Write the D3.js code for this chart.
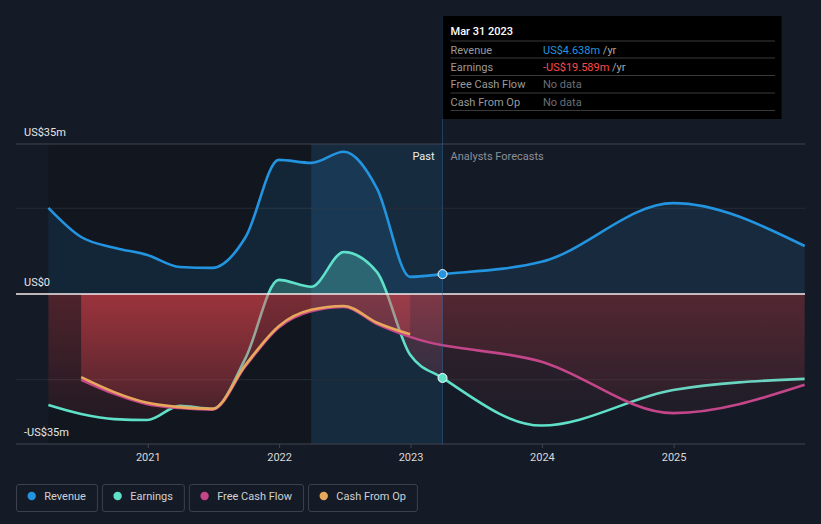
<!DOCTYPE html>
<html><head><meta charset="utf-8">
<script src="https://cdn.jsdelivr.net/npm/d3@7"></script>
<style>
html,body{margin:0;padding:0;background:#151b26;}
svg{display:block;font-family:Roboto,"Noto Sans",sans-serif;}
</style></head>
<body><svg id="c" width="821" height="524"></svg>
<script>
// ---- data ----
const pastDates = ["2020-03-31","2020-06-30","2020-09-30","2020-12-31","2021-03-31","2021-06-30","2021-09-30","2021-12-31","2022-03-31","2022-06-30","2022-09-30","2022-12-31","2023-03-31"];
const revenuePast = [20.1, 13.3, 10.8, 9.1, 6.3, 6.1, 13.3, 31.3, 30.6, 33.2, 24.6, 4.0, 4.638];
const earningsPast = [-25.9, -28.0, -29.2, -29.4, -26.1, -26.8, -14.9, 3.3, 1.7, 9.8, 5.1, -14.2, -19.589];
const cashDates = ["2020-06-30","2020-09-30","2020-12-31","2021-03-31","2021-06-30","2021-09-30","2021-12-31","2022-03-31","2022-06-30","2022-09-30","2022-12-31"];
const cashFromOpPast = [-19.4, -22.9, -25.4, -26.4, -26.8, -16.5, -7.5, -3.7, -2.8, -6.7, -9.4];
const fcfPast = [-20.0, -23.3, -25.7, -26.6, -27.0, -16.8, -7.8, -4.0, -3.0, -7.0, -10.0];
const forecastDates = ["2023-12-31","2024-12-31","2025-12-31"];
const revenueForecast = [7.5, 21.2, 11.2];
const earningsForecast = [-30.7, -22.4, -19.8];
const fcfForecast = [-15.8, -27.8, -21.2];
const yTickValues = [35, 0, -35];
const yTickLabels = ["US$35m", "US$0", "-US$35m"];
const gridValues = [20, -20];
const xTickYears = [2021, 2022, 2023, 2024, 2025];
const seriesNames = ["Revenue", "Earnings", "Free Cash Flow", "Cash From Op"];
const seriesColors = ["#2394df", "#5fe0c9", "#c4468a", "#e8a85c"];
const tooltipDate = "Mar 31 2023";
const tooltipRows = [
  {label:"Revenue", value:"US$4.638m", unit:" /yr", color:"#2394df"},
  {label:"Earnings", value:"-US$19.589m", unit:" /yr", color:"#ff4a4a"},
  {label:"Free Cash Flow", value:"No data", unit:"", color:"#6b6f76"},
  {label:"Cash From Op", value:"No data", unit:"", color:"#6b6f76"}
];

// ---- setup ----
const parse = d3.timeParse("%Y-%m-%d");
const svg = d3.select("#c");
const x = d3.scaleTime().domain([parse("2020-01-01"), parse("2026-01-01")]).range([16, 805]);
const y = d3.scaleLinear().domain([-35, 35]).range([444, 144]);
const zip = (ds, vs) => ds.map((d,i)=>({date:parse(d), v:vs[i]}));

const revenue = zip(pastDates, revenuePast).concat(zip(forecastDates, revenueForecast));
const earnings = zip(pastDates, earningsPast).concat(zip(forecastDates, earningsForecast));
const cfo = zip(cashDates, cashFromOpPast);
const fcf = zip(cashDates, fcfPast).concat(zip(forecastDates, fcfForecast));

const now = parse("2023-03-31");
const lastYear = parse("2022-03-31");
const x0 = x.range()[0], x1 = x.range()[1];
const xNow = x(now), xStart = x(parse(pastDates[0]));
const y0 = y(0);

const defs = svg.append("defs");
function grad(id, top, bottom){
  const g = defs.append("linearGradient").attr("id", id).attr("gradientUnits","userSpaceOnUse")
    .attr("x1",0).attr("x2",0).attr("y1",y(0)).attr("y2",y(-35));
  g.append("stop").attr("offset",0).attr("stop-color","#f2464e").attr("stop-opacity",top);
  g.append("stop").attr("offset",1).attr("stop-color","#f2464e").attr("stop-opacity",bottom);
}
grad("redPast", 0.27, 0.04);
grad("redFuture", 0.15, 0.02);
function clip(id, xa, xb, ya, yb){
  defs.append("clipPath").attr("id",id).append("rect").attr("x",xa).attr("y",ya).attr("width",xb-xa).attr("height",yb-ya);
}
clip("negPast", 0, xNow, y0, 460);
clip("negFuture", xNow, 821, y0, 460);
clip("pos", 0, 821, 100, y0);

// background regions
svg.append("rect").attr("x", xStart).attr("y", y(35)).attr("width", x(lastYear)-xStart).attr("height", y(-35)-y(35)).attr("fill","rgba(0,0,0,0.17)");
svg.append("rect").attr("x", x(lastYear)).attr("y", y(35)).attr("width", xNow-x(lastYear)).attr("height", y(-35)-y(35)).attr("fill","rgba(35,140,220,0.14)");

// grid
svg.selectAll(".grid").data(gridValues).join("line").attr("x1",x0).attr("x2",x1)
  .attr("y1",d=>y(d)).attr("y2",d=>y(d)).attr("stroke","#262c36").attr("stroke-width",1);
svg.append("line").attr("x1",x0).attr("x2",x1).attr("y1",y(35)).attr("y2",y(35)).attr("stroke","#40454e");
svg.append("line").attr("x1",x0).attr("x2",x1).attr("y1",y(-35)).attr("y2",y(-35)).attr("stroke","#40454e");

const curve = d3.curveMonotoneX;
const area = d3.area().x(d=>x(d.date)).y0(y0).y1(d=>y(d.v)).curve(curve);
const line = d3.line().x(d=>x(d.date)).y(d=>y(d.v)).curve(curve);

// revenue area
svg.append("path").attr("d", area(revenue)).attr("fill","rgba(35,148,223,0.13)").attr("clip-path","url(#pos)");
// earnings areas
svg.append("path").attr("d", area(earnings)).attr("fill","rgba(95,224,201,0.28)").attr("clip-path","url(#pos)");
function negArea(data){
  svg.append("path").attr("d", area(data)).attr("fill","url(#redPast)").attr("clip-path","url(#negPast)");
  svg.append("path").attr("d", area(data)).attr("fill","url(#redFuture)").attr("clip-path","url(#negFuture)");
}
negArea(earnings);
// earnings line (under cash areas)
svg.append("path").attr("d", line(earnings)).attr("fill","none").attr("stroke",seriesColors[1]).attr("stroke-width",2.6);
negArea(fcf);
negArea(cfo);

// zero line
svg.append("line").attr("x1",x0).attr("x2",x1).attr("y1",y0).attr("y2",y0).attr("stroke","#f4ecec").attr("stroke-width",1.5);

// lines
svg.append("path").attr("d", line(fcf)).attr("fill","none").attr("stroke",seriesColors[2]).attr("stroke-width",2.6);
svg.append("path").attr("d", line(cfo)).attr("fill","none").attr("stroke",seriesColors[3]).attr("stroke-width",2.6);
svg.append("path").attr("d", line(revenue)).attr("fill","none").attr("stroke",seriesColors[0]).attr("stroke-width",2.6);

// tooltip vertical line
svg.append("line").attr("x1",xNow).attr("x2",xNow).attr("y1",16).attr("y2",y(-35)).attr("stroke","rgba(50,110,170,0.45)").attr("stroke-width",1);

// dots at present
svg.append("circle").attr("cx",xNow).attr("cy",y(revenuePast[revenuePast.length-1])).attr("r",4.5).attr("fill",seriesColors[0]).attr("stroke","#fff").attr("stroke-width",1);
svg.append("circle").attr("cx",xNow).attr("cy",y(earningsPast[earningsPast.length-1])).attr("r",4.5).attr("fill",seriesColors[1]).attr("stroke","#fff").attr("stroke-width",1);

// y labels
svg.selectAll(".ylab").data(yTickValues).join("text").attr("x",24).attr("y",d=>y(d)-8)
  .attr("fill","#e6e6e6").attr("font-size",11).text((d,i)=>yTickLabels[i]);

// x axis
const xa = svg.append("g").attr("transform",`translate(0,${y(-35)})`)
  .call(d3.axisBottom(x).tickValues(xTickYears.map(yr=>new Date(yr,0,1))).tickFormat(d3.timeFormat("%Y")).tickSize(4).tickPadding(5));
xa.select(".domain").remove();
xa.selectAll(".tick line").attr("stroke","#40454e");
xa.selectAll(".tick text").attr("fill","#d8d8d8").attr("font-size",11).attr("font-family","Roboto,sans-serif");

// Past / Forecast labels
svg.append("text").attr("x",xNow-8).attr("y",160).attr("text-anchor","end").attr("fill","#eeeeee").attr("font-size",11).text("Past");
svg.append("text").attr("x",xNow+8).attr("y",160).attr("fill","#8a8f98").attr("font-size",11).text("Analysts Forecasts");

// tooltip
const tt = svg.append("g");
tt.append("rect").attr("x",xNow).attr("y",16).attr("width",339).attr("height",103).attr("fill","#000");
tt.append("text").attr("x",xNow+8).attr("y",35).attr("fill","#ffffff").attr("font-size",11).attr("font-weight",500).text(tooltipDate);
const sepY = [41, 58, 75.5, 93, 110.5];
tt.selectAll(".sep").data(sepY).join("line").attr("x1",xNow+8).attr("x2",775).attr("y1",d=>d).attr("y2",d=>d).attr("stroke","#3a3a3a");
tooltipRows.forEach((r,i)=>{
  const ty = sepY[i]+12.5;
  tt.append("text").attr("x",xNow+8).attr("y",ty).attr("fill","#9a9a9a").attr("font-size",11).text(r.label);
  const t = tt.append("text").attr("x",543).attr("y",ty).attr("font-size",11);
  t.append("tspan").attr("fill",r.color).text(r.value);
  if (r.unit) t.append("tspan").attr("fill","#a8a8a8").text(r.unit);
});

// legend
let lx = 16;
seriesNames.forEach((n,i)=>{
  const g = svg.append("g");
  const txt = g.append("text").attr("x",lx+28.3).attr("y",500).attr("fill","#cfd1d4").attr("font-size",11).text(n);
  const w = txt.node().getComputedTextLength();
  const bw = 28.3 + w + 11;
  g.insert("rect","text").attr("x",lx+0.5).attr("y",484.5).attr("width",bw).attr("height",27).attr("rx",2.5)
    .attr("fill","none").attr("stroke","#3b414d");
  g.append("circle").attr("cx",lx+15.7).attr("cy",496).attr("r",4.2).attr("fill",seriesColors[i]);
  lx += bw + 5;
});
</script></body></html>
